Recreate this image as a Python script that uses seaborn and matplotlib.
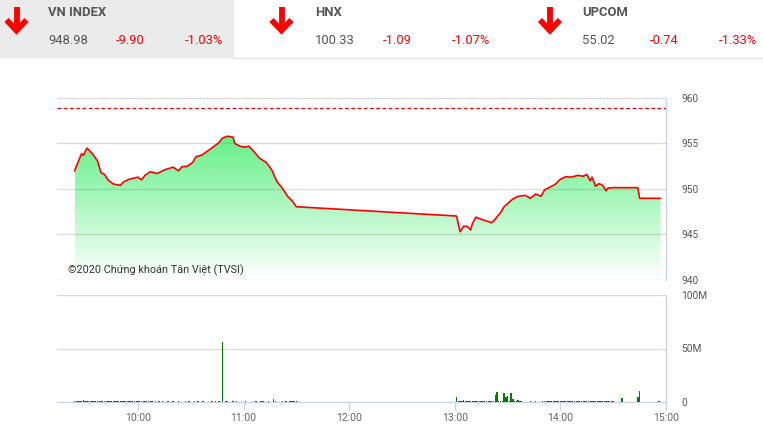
import numpy as np
import pandas as pd
import seaborn as sns
import matplotlib.pyplot as plt
import matplotlib.dates as mdates
from matplotlib.colors import to_rgb
from matplotlib.lines import Line2D
from matplotlib.patches import Rectangle
from matplotlib.ticker import FuncFormatter

# header boxes
index_names = ["VN INDEX", "HNX", "UPCOM"]
index_values = ["948.98", "100.33", "55.02"]
index_changes = ["-9.90", "-1.09", "-0.74"]
index_pct = ["-1.03%", "-1.07%", "-1.33%"]

ref_price = 958.88

# VN-Index intraday
price_time = [
    "09:24", "09:25", "09:28", "09:29", "09:31", "09:34", "09:37", "09:39", "09:41", "09:43",
    "09:46", "09:50", "09:52", "09:55", "10:00", "10:02", "10:04", "10:07", "10:11", "10:15",
    "10:20", "10:23", "10:25", "10:28", "10:31", "10:33", "10:36", "10:39", "10:43", "10:46",
    "10:48", "10:51", "10:54", "10:55", "10:58", "11:01", "11:03", "11:06", "11:09", "11:13",
    "11:16", "11:19", "11:22", "11:25", "11:28", "11:30", "13:01", "13:03", "13:05", "13:07",
    "13:09", "13:10", "13:12", "13:16", "13:21", "13:23", "13:26", "13:28", "13:33", "13:36",
    "13:40", "13:43", "13:46", "13:49", "13:51", "13:54", "13:57", "14:00", "14:03", "14:06",
    "14:10", "14:13", "14:15", "14:17", "14:18", "14:20", "14:22", "14:24", "14:26", "14:27",
    "14:30", "14:44", "14:45", "14:57",
]
price_value = [
    951.98, 952.5, 953.9, 953.7, 954.5, 953.9, 953.1, 951.8, 951.6, 951.0,
    950.55, 950.4, 950.8, 951.07, 951.3, 951.0, 951.5, 951.9, 951.7, 952.1,
    952.4, 952.0, 952.45, 952.5, 952.9, 953.55, 953.7, 954.1, 954.65, 955.1,
    955.6, 955.8, 955.7, 955.0, 954.7, 954.6, 954.7, 954.1, 953.4, 952.9,
    952.1, 950.8, 950.1, 949.2, 948.6, 948.05, 947.03, 945.3, 945.9, 945.9,
    945.5, 946.2, 946.9, 946.6, 946.3, 946.7, 947.4, 948.05, 948.9, 949.2,
    949.3, 948.98, 949.45, 949.2, 949.9, 950.2, 950.5, 951.07, 951.35, 951.3,
    951.5, 951.4, 951.6, 950.9, 951.3, 950.3, 950.6, 950.4, 949.8, 950.1,
    950.15, 950.15, 948.98, 948.98,
]

# volume, minutes after 09:00 and millions of shares
vol_minute = [
    24, 25, 26, 27, 28, 29, 30, 31, 32, 33,
    34, 35, 36, 37, 38, 39, 40, 41, 42, 43,
    44, 45, 46, 47, 48, 49, 50, 51, 52, 53,
    54, 55, 56, 57, 58, 59, 60, 61, 62, 63,
    64, 65, 66, 67, 68,
    70, 72, 74, 77, 80, 83, 87, 89, 92, 94,
    97, 102, 104, 106, 108, 110, 111, 114, 116, 121,
    127, 130, 131, 134, 137, 138, 142, 144, 146, 147,
    148, 149, 150,
    241, 242, 243, 244, 245, 246, 247, 248, 249, 250,
    251, 252, 253, 254, 255, 256, 257, 258, 259, 260,
    261, 262, 263, 264, 265, 266, 267, 268, 269, 270,
    271, 272, 273, 274, 275, 276, 277, 278,
    283, 286,
    290, 291, 292, 293, 294, 295, 296, 297, 298, 299,
    300, 301, 302, 303, 304, 305, 306, 307, 308, 309,
    310, 311, 312, 313, 314, 315, 316, 317, 318, 319,
    320, 321, 322, 323, 324, 325, 326, 327, 328, 329,
    330,
    335, 344, 345, 356,
]
vol_value = [
    0.9, 0.8, 1.0, 0.9, 1.1, 2.2, 1.0, 0.9, 0.8, 1.0,
    0.9, 0.8, 1.0, 0.9, 0.9, 0.8, 1.0, 0.8, 0.9, 1.0,
    0.8, 0.9, 0.8, 1.0, 0.9, 0.8, 0.9, 1.0, 0.8, 0.9,
    0.8, 0.9, 1.0, 0.8, 0.9, 0.8, 1.0, 0.9, 0.8, 0.9,
    0.8, 1.0, 0.9, 0.8, 0.9,
    0.9, 0.8, 1.0, 0.9, 0.8, 0.9, 1.0, 0.8, 0.9, 0.8,
    1.2, 0.9, 0.8, 0.9, 55.7, 0.9, 0.8, 0.9, 1.0, 0.8,
    0.9, 1.0, 0.8, 0.9, 3.0, 0.9, 0.8, 1.0, 0.9, 0.8,
    0.9, 1.0, 0.9,
    4.7, 1.0, 0.9, 1.0, 1.5, 0.9, 1.0, 0.8, 1.4, 0.9,
    1.0, 0.9, 0.8, 1.0, 0.9, 0.8, 1.0, 0.9, 1.0, 0.9,
    0.8, 1.0, 6.6, 9.5, 1.0, 0.9, 1.0, 8.5, 4.4, 5.7,
    1.0, 8.5, 2.8, 0.9, 1.0, 1.5, 0.9, 0.8,
    0.9, 0.9,
    0.9, 0.8, 1.0, 0.9, 0.8, 0.9, 1.0, 0.8, 0.9, 0.8,
    1.4, 0.9, 0.8, 0.9, 1.0, 0.8, 0.9, 1.0, 0.8, 0.9,
    0.8, 0.9, 1.0, 0.8, 0.9, 0.8, 1.0, 0.9, 0.8, 0.9,
    1.0, 0.8, 0.9, 0.8, 1.0, 0.9, 0.8, 0.9, 1.0, 0.8,
    0.9,
    3.8, 4.7, 10.4, 0.9,
]

sns.set_theme(style="white")
plt.rcParams["font.family"] = ["Roboto", "DejaVu Sans"]

W, H = 763, 428
fig = plt.figure(figsize=(W / 100, H / 100), dpi=100)


def fx(x):
    return x / W


def fy(y):
    return 1 - y / H


# header strip
fig.add_artist(Rectangle((0, fy(57)), fx(233), 57 / H, transform=fig.transFigure,
                         color="#ebebeb", zorder=0))
fig.add_artist(Line2D([fx(233), 1], [fy(57.5), fy(57.5)], transform=fig.transFigure,
                      color="#e6e6e6", lw=1))

arrow_x = [16.5, 281.5, 550]
name_x = [48, 315, 582]
for i in range(3):
    cx = arrow_x[i]
    for xs, ys in [([cx, cx], [7, 29]), ([cx - 10, cx, cx + 10], [20, 30.5, 20])]:
        fig.add_artist(Line2D([fx(v) for v in xs], [fy(v) for v in ys],
                              transform=fig.transFigure, color="#ff0000", lw=4.2,
                              solid_capstyle="butt", solid_joinstyle="miter"))
    x0 = name_x[i]
    fig.text(fx(x0), fy(12.5), index_names[i], fontsize=9.4, fontweight="bold",
             color="#555555", va="center")
    fig.text(fx(x0), fy(40.5), index_values[i], fontsize=9.4, color="#555555", va="center")
    fig.text(fx(x0 + 68), fy(40.5), index_changes[i], fontsize=9.4, color="#ff0000", va="center")
    fig.text(fx(x0 + 137), fy(40.5), index_pct[i], fontsize=9.4, color="#ff0000", va="center")

# price panel
ax_p = fig.add_axes([fx(57), fy(280), (666 - 57) / W, (280 - 98) / H])
ax_v = fig.add_axes([fx(57), fy(402), (666 - 57) / W, (402 - 295) / H])

t_price = pd.to_datetime(price_time, format="%H:%M")
sns.lineplot(x=t_price, y=price_value, ax=ax_p, color="#ff0000", linewidth=1.2, zorder=4)

fill = ax_p.fill_between(t_price, price_value, 940, color="none", lw=0)
grad = np.zeros((256, 1, 4))
grad[:, 0, :3] = to_rgb("#00e63c")
grad[:, 0, 3] = np.linspace(0.62, 0.0, 256)
x0 = mdates.date2num(t_price.min())
x1 = mdates.date2num(t_price.max())
im = ax_p.imshow(grad, extent=[x0, x1, 940, 956], origin="upper", aspect="auto", zorder=2)
im.set_clip_path(fill.get_paths()[0], transform=ax_p.transData)

ax_p.axhline(ref_price, color="#ff0000", lw=0.9, ls=(0, (3, 2)), zorder=3)

t_start = pd.Timestamp("1900-01-01 09:14")
t_end = pd.Timestamp("1900-01-01 15:00")
for ax in (ax_p, ax_v):
    ax.set_xlim(t_start, t_end)
    ax.set_xlabel("")
    ax.set_ylabel("")
    ax.yaxis.tick_right()
    ax.grid(axis="y", color="#d9d9d9", lw=0.9)
    ax.grid(axis="x", visible=False)
    for s in ("top", "left"):
        ax.spines[s].set_visible(False)
    ax.spines["right"].set_color("#c6d3e4")
    ax.spines["right"].set_linewidth(0.9)
    ax.tick_params(axis="y", length=0, pad=11, labelsize=7.3, labelcolor="#555555")
    ax.xaxis.set_major_locator(mdates.HourLocator(byhour=range(10, 16)))
    ax.xaxis.set_major_formatter(mdates.DateFormatter("%H:%M"))

ax_p.set_ylim(940, 960)
ax_p.set_yticks([940, 945, 950, 955, 960])
ax_p.spines["bottom"].set_visible(False)
ax_p.tick_params(axis="x", length=0, labelbottom=False)

fig.text(fx(68), fy(270.5), "©2020 Chứng khoán Tân Việt (TVSI)", fontsize=7.8,
         color="#333333", va="center")

# volume panel
t_vol = pd.Timestamp("1900-01-01 09:00") + pd.to_timedelta(vol_minute, unit="min")
ax_v.bar(t_vol, vol_value, width=0.8 / 1440, color="#008000", linewidth=0, zorder=3)
ax_v.set_ylim(0, 100)
ax_v.set_yticks([0, 50, 100])
ax_v.yaxis.set_major_formatter(FuncFormatter(lambda v, p: "0" if v == 0 else f"{v:.0f}M"))
ax_v.spines["bottom"].set_color("#c6d3e4")
ax_v.spines["bottom"].set_linewidth(0.9)
ax_v.tick_params(axis="x", bottom=True, length=5.8, width=0.9, color="#c6d3e4",
                 labelsize=7.5, labelcolor="#666666", pad=2)

fig.savefig("out.png", dpi=100)
